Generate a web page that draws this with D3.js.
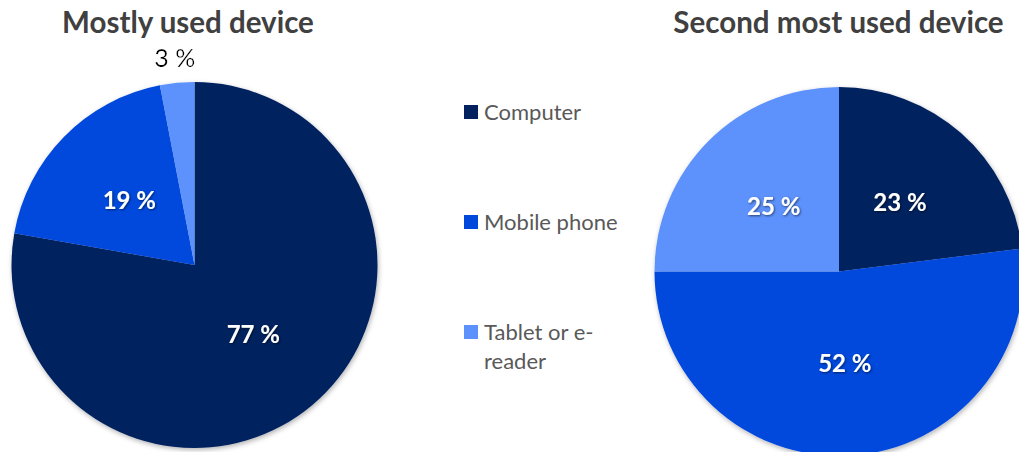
<!DOCTYPE html>
<html>
<head>
<meta charset="utf-8">
<script src="https://cdn.jsdelivr.net/npm/d3@7"></script>
<style>
  html, body { margin: 0; padding: 0; background: #ffffff; }
  svg { display: block; }
  text { font-family: Lato, "Noto Sans", sans-serif; }
</style>
</head>
<body>
<svg id="chart" width="1019" height="452"></svg>
<script>
// Device categories shared by both pies
const categories = ["Computer", "Mobile phone", "Tablet or e-reader"];
const legendLines = [["Computer"], ["Mobile phone"], ["Tablet or e-", "reader"]];
const colors = ["#03215f", "#0048dc", "#5d91fb"];

// Share of respondents (%) per device
const mostlyUsed = [77, 19, 3];
const secondMostUsed = [23, 52, 25];

const titles = ["Mostly used device", "Second most used device"];

const svg = d3.select("#chart");

const defs = svg.append("defs");
const shadow = defs.append("filter").attr("id", "pieShadow")
  .attr("x", "-10%").attr("y", "-10%").attr("width", "120%").attr("height", "120%");
shadow.append("feDropShadow").attr("dx", 1).attr("dy", 2)
  .attr("stdDeviation", 2.5).attr("flood-color", "#000").attr("flood-opacity", 0.3);

const labelShadow = defs.append("filter").attr("id", "labelShadow")
  .attr("x", "-20%").attr("y", "-30%").attr("width", "140%").attr("height", "160%");
labelShadow.append("feDropShadow").attr("dx", 1).attr("dy", 1)
  .attr("stdDeviation", 1).attr("flood-color", "#000").attr("flood-opacity", 0.55);

const glow = defs.append("filter").attr("id", "labelGlow")
  .attr("x", "-30%").attr("y", "-40%").attr("width", "160%").attr("height", "180%");
glow.append("feMorphology").attr("in", "SourceAlpha").attr("operator", "dilate").attr("radius", 1.5).attr("result", "d");
glow.append("feGaussianBlur").attr("in", "d").attr("stdDeviation", 1.5).attr("result", "b");
glow.append("feFlood").attr("flood-color", "#fff").attr("result", "f");
glow.append("feComposite").attr("in", "f").attr("in2", "b").attr("operator", "in").attr("result", "g");
const gm = glow.append("feMerge");
gm.append("feMergeNode").attr("in", "g");
gm.append("feMergeNode").attr("in", "SourceGraphic");

const color = d3.scaleOrdinal().domain(categories).range(colors);

const pie = d3.pie().sort(null).value(d => d.value);

function drawPie(values, title, cx, cy, r, titleX) {
  const data = categories.map((c, i) => ({ category: c, value: values[i] }));
  const arcs = pie(data);
  const arc = d3.arc().innerRadius(0).outerRadius(r);
  const outerArc = d3.arc().innerRadius(r * 1.135).outerRadius(r * 1.135);

  svg.append("text")
    .attr("x", titleX).attr("y", 33)
    .attr("text-anchor", "middle")
    .attr("font-size", 29.5).attr("font-weight", "bold")
    .attr("fill", "#404040")
    .text(title);

  const g = svg.append("g").attr("transform", `translate(${cx},${cy})`);
  g.append("g").attr("filter", "url(#pieShadow)")
    .selectAll("path").data(arcs).join("path")
    .attr("d", arc)
    .attr("fill", d => color(d.data.category));

  g.selectAll("text.val").data(arcs).join("text")
    .attr("class", "val")
    .each(function (d) {
      const inside = d.data.value >= 5;
      const [x, y] = inside ? arc.centroid(d) : outerArc.centroid(d);
      d3.select(this)
        .attr("x", x).attr("y", y)
        .attr("dy", "0.35em")
        .attr("text-anchor", "middle")
        .attr("font-size", inside ? 24 : 25)
        .attr("font-weight", inside ? "bold" : "normal")
        .attr("fill", inside ? "#ffffff" : "#000000")
        .attr("filter", inside ? "url(#labelShadow)" : "url(#labelGlow)");
    })
    .text(d => `${d.data.value} %`);
}

drawPie(mostlyUsed, titles[0], 194.5, 265, 183, 188);
drawPie(secondMostUsed, titles[1], 839, 271.5, 184.5, 838.5);

// Legend between the two pies
const legend = svg.append("g").attr("transform", "translate(464,0)");
const legendY = d3.scalePoint().domain(categories).range([112, 332]);
const item = legend.selectAll("g.item").data(categories).join("g")
  .attr("class", "item")
  .attr("transform", d => `translate(0,${legendY(d)})`);
item.append("rect")
  .attr("x", 0).attr("y", -7).attr("width", 14).attr("height", 14)
  .attr("fill", d => color(d));
item.append("text")
  .attr("x", 20).attr("y", 7.5)
  .attr("font-size", 22).attr("fill", "#595959")
  .selectAll("tspan").data((d, i) => legendLines[i]).join("tspan")
  .attr("x", 20)
  .attr("dy", (d, i) => i === 0 ? 0 : 29)
  .text(d => d);
</script>
</body>
</html>
